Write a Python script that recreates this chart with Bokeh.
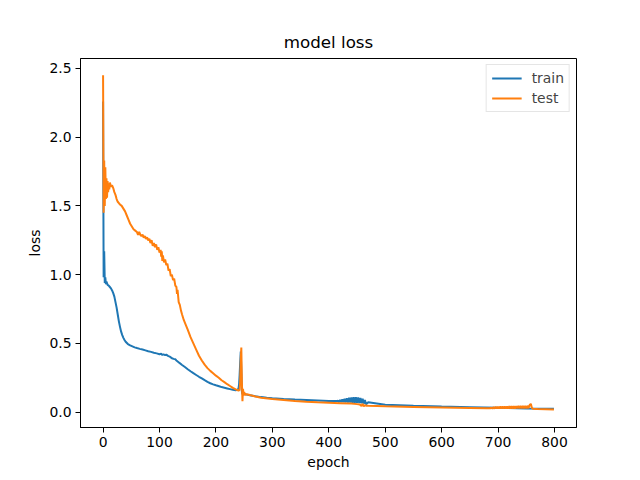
from bokeh.plotting import figure
from bokeh.models import Range1d, FixedTicker, PrintfTickFormatter, ColumnDataSource
from bokeh.embed import file_html
from bokeh.resources import INLINE

# ---- data ----
train_epoch = [0, 1, 2, 3, 4, 5, 6, 8, 10, 12, 14, 16, 18, 20, 22, 24, 26, 28, 30, 32, 34, 36, 38, 40,
               44, 48, 52, 56, 60, 65, 70, 75, 80, 85, 90, 95, 100, 103, 105, 107, 110, 112, 115, 118,
               120, 122, 125, 128, 130, 136, 140, 145, 150, 155, 160, 165, 170, 175, 180, 185, 190, 195,
               200, 207, 210, 215, 220, 225, 230, 235, 238, 240, 241, 242, 243, 244, 245, 246,
               247, 248, 250, 255, 260, 270, 280, 290, 300, 320, 340, 360, 380, 400, 410, 414,
               416, 418, 420, 422, 424, 426, 428, 430, 432, 434, 436, 438, 440, 442, 444, 446, 448,
               450, 452, 454, 456, 458, 460, 462, 464, 466,
               470, 500, 550, 600, 650, 700, 750, 799]
train_loss = [2.26, 0.98, 1.17, 0.94, 0.98, 0.93, 0.95, 0.925, 0.92, 0.91, 0.90, 0.885, 0.865, 0.84, 0.80,
              0.76, 0.71, 0.66, 0.62, 0.585, 0.56, 0.54, 0.525, 0.512,
              0.495, 0.485, 0.478, 0.471, 0.466, 0.460, 0.455, 0.449, 0.443, 0.438, 0.432, 0.427, 0.421,
              0.424, 0.416, 0.420, 0.414, 0.418, 0.409, 0.404,
              0.398, 0.392, 0.387, 0.384, 0.376, 0.356, 0.343, 0.328, 0.312, 0.297, 0.283, 0.270, 0.257,
              0.245, 0.232, 0.220, 0.210, 0.202,
              0.195, 0.186, 0.182, 0.177, 0.172, 0.167, 0.162, 0.159, 0.162, 0.17, 0.20, 0.27, 0.36,
              0.44, 0.30, 0.15,
              0.13, 0.14, 0.132, 0.127, 0.123, 0.115, 0.109, 0.104, 0.100, 0.095, 0.091, 0.088, 0.085,
              0.081, 0.080, 0.080,
              0.082, 0.074, 0.088, 0.073, 0.093, 0.072, 0.097, 0.071, 0.101, 0.070, 0.104, 0.069, 0.106,
              0.068, 0.108, 0.068, 0.108,
              0.067, 0.106, 0.066, 0.103, 0.064, 0.097, 0.062, 0.088, 0.058, 0.072,
              0.053, 0.046, 0.040, 0.036, 0.031, 0.027, 0.024, 0.021]

test_epoch = [0, 1, 2, 3, 4, 5, 6, 7, 8, 9, 10, 11, 12, 14, 16, 18, 20, 22, 24, 26, 28, 30, 33, 36, 39,
              42, 45, 48, 51, 54, 57, 60, 62, 64, 66, 68, 70, 72, 74, 76, 78, 80, 82, 84, 86, 88, 90,
              92, 94, 96, 98, 100, 102, 103, 104, 105, 106, 108, 110, 112, 114, 116, 118, 120, 122,
              124, 126, 128, 130, 131, 132, 134, 136, 138, 140, 143, 146, 150, 155, 160, 165, 170, 175,
              180, 185, 190, 195, 200, 205, 210, 215, 220, 225, 230, 235, 240, 242, 243, 244, 245, 246,
              247, 248, 249, 250, 252, 255, 260, 270, 280, 300, 320, 340, 360, 380, 400, 420, 440, 450,
              455, 458, 460, 462, 464, 466, 470, 500, 550, 600, 650, 680, 686,
              688, 690, 692, 694, 696, 698, 700, 702, 704, 706, 708, 710, 712, 714, 716, 718, 720, 722,
              724, 726, 728, 730, 732, 734, 736, 738, 740, 742, 744, 746, 748, 750, 752, 754, 756, 758,
              760, 762, 770, 799]
test_loss = [2.45, 1.45, 1.83, 1.50, 1.78, 1.55, 1.70, 1.56, 1.68, 1.60, 1.66, 1.62, 1.67, 1.64, 1.65,
             1.63, 1.60, 1.58, 1.55, 1.53, 1.52, 1.51, 1.50, 1.48, 1.46,
             1.43, 1.40, 1.37, 1.35, 1.33, 1.32, 1.31, 1.29, 1.31, 1.29, 1.28, 1.29, 1.27, 1.28, 1.26,
             1.27, 1.25, 1.26, 1.23, 1.25, 1.21, 1.23,
             1.20, 1.22, 1.18, 1.20, 1.16, 1.18, 1.13, 1.17, 1.10, 1.14, 1.09, 1.11, 1.07, 1.08, 1.03,
             1.04, 0.99, 1.00,
             0.96, 0.97, 0.92, 0.91, 0.86, 0.89, 0.80, 0.78, 0.74, 0.71, 0.67, 0.64, 0.60, 0.545, 0.50,
             0.455, 0.41, 0.375,
             0.345, 0.32, 0.30, 0.283, 0.265, 0.25, 0.232, 0.218, 0.203, 0.19, 0.176, 0.165, 0.157,
             0.16, 0.22, 0.38, 0.47, 0.22,
             0.08, 0.17, 0.12, 0.145, 0.125, 0.13, 0.124, 0.113, 0.105, 0.095, 0.088, 0.081, 0.075,
             0.071, 0.068, 0.065, 0.062, 0.058,
             0.056, 0.045, 0.060, 0.042, 0.050, 0.047, 0.046, 0.042, 0.038, 0.034, 0.030, 0.028, 0.028,
             0.032, 0.026, 0.036, 0.026, 0.038, 0.026, 0.039, 0.026, 0.040, 0.026, 0.040, 0.026, 0.041,
             0.026, 0.041, 0.026, 0.042, 0.026,
             0.042, 0.026, 0.043, 0.026, 0.043, 0.027, 0.044, 0.027, 0.044, 0.027, 0.045, 0.027, 0.045,
             0.027, 0.046, 0.028, 0.052, 0.060,
             0.030, 0.024, 0.022, 0.019]

x_ticks = [0, 100, 200, 300, 400, 500, 600, 700, 800]
y_ticks = [0.0, 0.5, 1.0, 1.5, 2.0, 2.5]

FONT = "DejaVu Sans"

p = figure(width=640, height=480, output_backend="svg", toolbar_location=None,
           x_range=Range1d(-40, 839), y_range=Range1d(-0.112, 2.572),
           title="model loss")
p.min_border_left = 80
p.min_border_right = 64
p.min_border_top = 58
p.min_border_bottom = 53
p.background_fill_color = "white"
p.border_fill_color = "white"
p.outline_line_color = "black"
p.outline_line_width = 1
p.xgrid.visible = False
p.ygrid.visible = False

p.title.align = "center"
p.title.text_font = FONT
p.title.text_font_size = "16.7px"
p.title.text_font_style = "normal"
p.title.text_color = "black"
p.title.standoff = 13

src_train = ColumnDataSource(dict(x=train_epoch, y=train_loss))
src_test = ColumnDataSource(dict(x=test_epoch, y=test_loss))
p.line("x", "y", source=src_train, line_color="#1f77b4", line_width=2, legend_label="train")
p.line("x", "y", source=src_test, line_color="#ff7f0e", line_width=2, legend_label="test")

for ax in (p.xaxis[0], p.yaxis[0]):
    ax.major_label_text_font = FONT
    ax.major_label_text_font_size = "13.9px"
    ax.major_label_text_color = "black"
    ax.axis_label_text_font = FONT
    ax.axis_label_text_font_size = "13.9px"
    ax.axis_label_text_font_style = "normal"
    ax.axis_label_text_color = "black"
    ax.major_tick_in = 0
    ax.major_tick_out = 5
    ax.minor_tick_in = 0
    ax.minor_tick_out = 0
    ax.axis_line_color = "black"
    ax.major_tick_line_color = "black"
    ax.major_label_standoff = 4

p.xaxis.ticker = FixedTicker(ticks=x_ticks)
p.yaxis.ticker = FixedTicker(ticks=y_ticks)
p.yaxis.formatter = PrintfTickFormatter(format="%.1f")
p.xaxis.axis_label = "epoch"
p.yaxis.axis_label = "loss"
p.xaxis.axis_label_standoff = 4
p.yaxis.axis_label_standoff = 3

lg = p.legend[0]
lg.location = "top_right"
lg.margin = 6
lg.padding = 5
lg.spacing = 4
lg.glyph_width = 30
lg.glyph_height = 16
lg.label_standoff = 10
lg.label_text_font = FONT
lg.label_text_font_size = "13.9px"
lg.border_line_color = "#cccccc"
lg.border_line_width = 1
lg.background_fill_alpha = 0.8

open("out.html", "w").write(file_html(p, INLINE))
